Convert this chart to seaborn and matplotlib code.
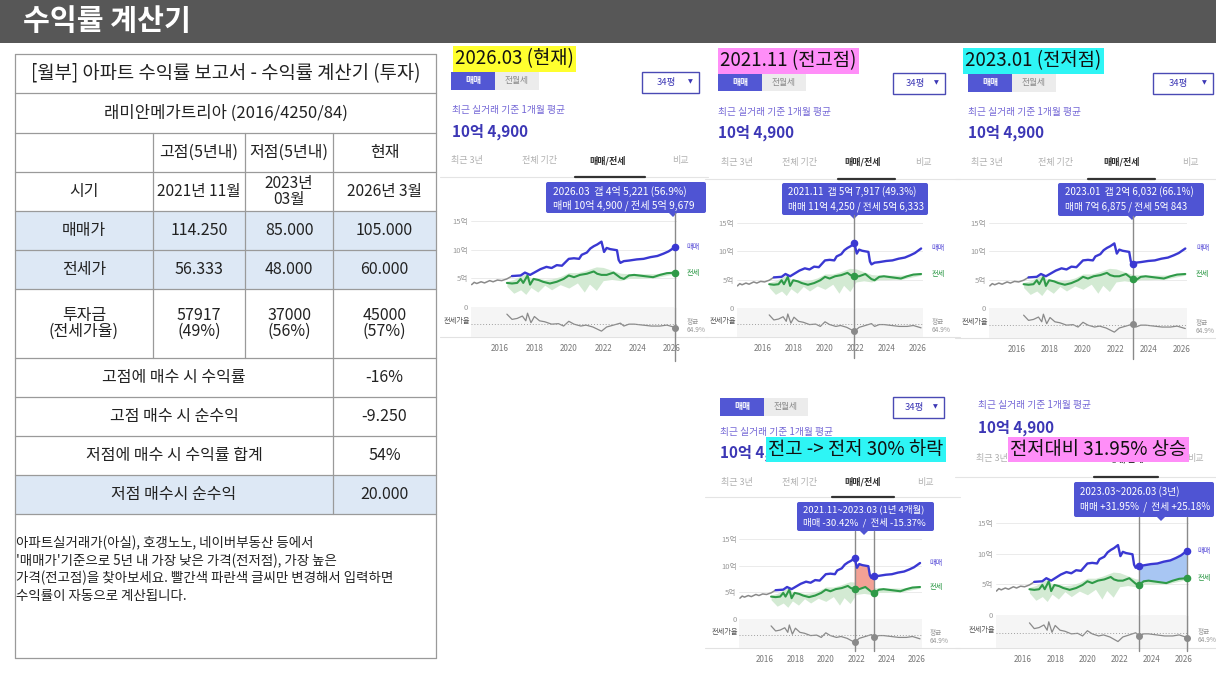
import numpy as np
import matplotlib.pyplot as plt
import seaborn as sns
from matplotlib.patches import Rectangle, FancyBboxPatch, Polygon

# ---- price history (unit: 억원) ----
sale_t = [2016.7, 2017.2, 2017.45, 2017.75, 2018.05, 2018.35, 2018.7, 2019.0, 2019.3, 2019.6,
          2019.8, 2020.0, 2020.3, 2020.6, 2020.75, 2021.05, 2021.25, 2021.45, 2021.65, 2021.8,
          2021.9, 2022.05, 2022.2, 2022.4, 2022.6, 2022.8, 2022.9, 2023.0, 2023.2, 2023.5,
          2023.95, 2024.35, 2024.75, 2025.15, 2025.5, 2025.8, 2026.2]
sale_v = [5.4, 5.5, 6.0, 5.6, 6.1, 6.6, 7.0, 6.8, 7.3, 7.2,
          7.8, 8.4, 8.5, 8.4, 9.1, 9.5, 10.2, 10.6, 10.9, 11.2,
          11.4, 9.6, 10.3, 10.1, 10.0, 9.9, 8.2, 7.7, 8.0, 8.1,
          8.3, 8.4, 8.7, 8.9, 9.3, 9.7, 10.5]

jeonse_t = [2016.4, 2016.7, 2017.0, 2017.2, 2017.35, 2017.6, 2017.75, 2017.95, 2018.25, 2018.5,
            2018.9, 2019.3, 2019.7, 2020.0, 2020.3, 2020.65, 2021.05, 2021.45, 2021.65, 2021.9,
            2022.2, 2022.6, 2023.0, 2023.2, 2023.5, 2023.8, 2024.35, 2024.9, 2025.3, 2025.7, 2026.2]
jeonse_v = [4.2, 4.1, 4.2, 4.9, 4.2, 5.5, 3.9, 4.9, 4.7, 4.4,
            4.1, 4.4, 4.9, 5.5, 5.2, 5.6, 5.8, 6.2, 5.8, 5.6,
            5.6, 6.0, 5.1, 4.9, 5.5, 5.6, 5.4, 5.2, 5.6, 5.9, 6.0]

# pre-completion (gray) segment
pre_t = [2014.35, 2014.5, 2014.65, 2014.9, 2015.1, 2015.4, 2015.6, 2015.85, 2016.1, 2016.4, 2016.7]
pre_v = [3.9, 4.3, 4.1, 4.4, 4.2, 4.6, 4.4, 4.7, 4.6, 4.9, 5.4]

# light green band = range of jeonse deals
band_t = [2016.4, 2016.8, 2017.2, 2017.5, 2017.8, 2018.2, 2018.6, 2019.0, 2019.5, 2020.0,
          2020.5, 2020.9, 2021.2, 2021.6, 2022.0, 2022.5, 2023.0, 2023.5, 2024.0, 2025.0, 2026.2]
band_lo = [3.6, 2.4, 3.0, 2.2, 3.4, 2.6, 3.8, 3.0, 3.9, 3.3,
           4.2, 2.6, 4.0, 2.9, 4.6, 4.8, 4.6, 5.0, 5.0, 5.1, 5.8]
band_hi = [4.5, 4.8, 5.4, 5.8, 5.1, 5.0, 4.8, 4.9, 5.3, 6.0,
           6.0, 6.3, 6.6, 7.0, 6.9, 6.4, 5.9, 5.8, 5.8, 5.8, 6.2]

# 전세가율 (%)
ratio_t = [2016.4, 2016.7, 2017.0, 2017.3, 2017.5, 2017.6, 2017.8, 2018.0, 2018.3, 2018.6,
           2019.0, 2019.4, 2019.7, 2020.0, 2020.3, 2020.7, 2021.0, 2021.4, 2021.9, 2022.2,
           2022.6, 2023.0, 2023.2, 2023.5, 2023.8, 2024.3, 2024.8, 2025.3, 2025.7, 2026.2]
ratio_v = [85, 74, 76, 81, 71, 87, 67, 80, 71, 69,
           64, 65, 60, 70, 64, 60, 62, 58, 49.3, 58,
           62, 66.1, 60, 64, 64, 62, 60, 60, 62, 56.9]
ratio_avg = 64.9

# ---- table contents ----
table_title = '[월부] 아파트 수익률 보고서 - 수익률 계산기 (투자)'
apt_name = '래미안메가트리아 (2016/4250/84)'
col_heads = ['고점(5년내)', '저점(5년내)', '현재']
row_heads = ['시기', '매매가', '전세가', '투자금\n(전세가율)']
periods = ['2021년 11월', '2023년\n03월', '2026년 3월']
sale_prices = ['114.250', '85.000', '105.000']
jeonse_prices = ['56.333', '48.000', '60.000']
invest = ['57917\n(49%)', '37000\n(56%)', '45000\n(57%)']
summary_labels = ['고점에 매수 시 수익률', '고점 매수 시 순수익', '저점에 매수 시 수익률 합계', '저점 매수시 순수익']
summary_values = ['-16%', '-9.250', '54%', '20.000']
note_lines = ['아파트실거래가(아실), 호갱노노, 네이버부동산 등에서',
              "'매매가'기준으로 5년 내 가장 낮은 가격(전저점), 가장 높은",
              '가격(전고점)을 찾아보세요. 빨간색 파란색 글씨만 변경해서 입력하면',
              '수익률이 자동으로 계산됩니다.']

tab_names = ['최근 3년', '전체 기간', '매매/전세', '비교']

sns.set_theme(style='white')
plt.rcParams['font.family'] = ['Noto Sans CJK KR', 'DejaVu Sans']
plt.rcParams['axes.unicode_minus'] = False

W, H = 1216, 684
fig = plt.figure(figsize=(W / 100, H / 100), dpi=100)
fig.patch.set_facecolor('white')
bg = fig.add_axes([0, 0, 1, 1])
bg.set_xlim(0, W)
bg.set_ylim(H, 0)
bg.axis('off')

# header bar
bg.add_patch(Rectangle((0, 0), W, 43, fc='#575757', ec='none'))
bg.text(23, 21, '수익률 계산기', color='white', fontsize=21, fontweight='bold', va='center')

# ---- table ----
TXT = '#222222'
col_x = [15, 153, 245, 333, 436]
row_y = [54, 93, 133, 172, 211, 250, 289, 358, 397, 436, 475, 514, 658]
for i in (4, 5, 10):
    bg.add_patch(Rectangle((col_x[0], row_y[i]), col_x[-1] - col_x[0], row_y[i + 1] - row_y[i],
                           fc='#dde8f5', ec='none'))
lk = dict(color='#9a9a9a', lw=0.9)
for y in row_y:
    bg.plot([col_x[0], col_x[-1]], [y, y], **lk)
bg.plot([col_x[0]] * 2, [row_y[0], row_y[-1]], **lk)
bg.plot([col_x[-1]] * 2, [row_y[0], row_y[-1]], **lk)
for x in col_x[1:3]:
    bg.plot([x, x], [row_y[2], row_y[7]], **lk)
bg.plot([col_x[3]] * 2, [row_y[2], row_y[11]], **lk)

cx = [(col_x[i] + col_x[i + 1]) / 2 for i in range(4)]
mid = lambda i: (row_y[i] + row_y[i + 1]) / 2


def cell(x, y, s, size=11.5):
    bg.text(x, y, s, ha='center', va='center', fontsize=size, color=TXT, linespacing=0.95)


cell((col_x[0] + col_x[-1]) / 2, mid(0), table_title, 13.5)
cell((col_x[0] + col_x[-1]) / 2, mid(1), apt_name, 12)
for j, s in enumerate(col_heads):
    cell(cx[j + 1], mid(2), s)
for i, s in enumerate(row_heads):
    cell(cx[0], mid(3 + i), s)
for j in range(3):
    cell(cx[j + 1], mid(3), periods[j], 11.2)
    cell(cx[j + 1], mid(4), sale_prices[j])
    cell(cx[j + 1], mid(5), jeonse_prices[j])
    cell(cx[j + 1], mid(6), invest[j])
for i in range(4):
    cell((col_x[0] + col_x[3]) / 2, mid(7 + i), summary_labels[i])
    cell(cx[3], mid(7 + i), summary_values[i])
for k, s in enumerate(note_lines):
    bg.text(16, 543 + k * 17.7, s, fontsize=9.7, color=TXT, va='center')

# ---- screenshot panels ----
panels = [
    dict(span=(440, 708), sep=177, label=(455, 59, '2026.03 (현재)', '#ffff2e'),
         buttons=(451, 72), dropdown=(642, 72, 57), sub=(452, 110), price=(452, 132),
         tab_y=161, tabs_x=[467, 540, 608, 680], under=(575, 645),
         tip=(546, 182, 160, 31), tip_x=553, tip_y=(191, 205), tip_pt=673, tip_fs=7.3,
         tip_text=['2026.03  갭 4억 5,221 (56.9%)', '매매 10억 4,900 / 전세 5억 9,679'],
         frame=(500, 672, 221, 307, 337), focus=[2026.2], vext=24, fill=None),
    dict(span=(705, 960), sep=179, label=(720, 61, '2021.11 (전고점)', '#ff8ef8'),
         buttons=(718, 73), dropdown=(893, 73, 52), sub=(718, 112), price=(718, 133),
         tab_y=162, tabs_x=[737, 800, 863, 923], under=(838, 895),
         tip=(782, 183, 146, 32), tip_x=788, tip_y=(192, 207), tip_pt=854, tip_fs=7.0,
         tip_text=['2021.11  갭 5억 7,917 (49.3%)', '매매 11억 4,250 / 전세 5억 6,333'],
         frame=(763, 918, 223, 308, 337), focus=[2021.9], vext=21, fill=None),
    dict(span=(955, 1216), sep=179, label=(965, 61, '2023.01 (전저점)', '#2ef5f5'),
         buttons=(968, 74), dropdown=(1153, 73, 60), sub=(968, 112), price=(968, 133),
         tab_y=162, tabs_x=[987, 1055, 1122, 1190], under=(1088, 1155),
         tip=(1058, 183, 146, 33), tip_x=1065, tip_y=(192, 207), tip_pt=1132, tip_fs=7.0,
         tip_text=['2023.01  갭 2억 6,032 (66.1%)', '매매 7억 6,875 / 전세 5억 843'],
         frame=(1017, 1182, 223, 308, 338), focus=[2023.0], vext=21, fill=None),
    dict(span=(705, 960), sep=497, label=(768, 449.5, '전고 -> 전저 30% 하락', '#2ef5f5'),
         buttons=(720, 398), dropdown=(893, 397, 51), sub=(720, 432), price=(720, 453),
         tab_y=482, tabs_x=[737, 800, 863, 925], under=(832, 894),
         tip=(797, 502, 137, 29), tip_x=803, tip_y=(509.5, 523), tip_pt=864, tip_fs=6.8,
         tip_text=['2021.11~2023.03 (1년 4개월)', '매매 -30.42%  /  전세 -15.37%'],
         frame=(765, 917, 539, 619, 648), focus=[2021.9, 2023.2], vext=3,
         fill=(2021.9, 2023.2, '#f3a195')),
    dict(span=(955, 1216), sep=477, label=(1010, 449.5, '전저대비 31.95% 상승', '#ff8ef8'),
         buttons=None, dropdown=None, sub=(978, 405), price=(978, 428),
         tab_y=459, tabs_x=[992, 1060, 1126, 1195], under=(1094, 1158),
         tip=(1074, 482, 140, 35), tip_x=1080, tip_y=(492, 507), tip_pt=1161, tip_fs=7.0,
         tip_text=['2023.03~2026.03 (3년)', '매매 +31.95%  /  전세 +25.18%'],
         frame=(1023, 1184, 523, 615, 648), focus=[2023.2, 2026.2], vext=3,
         fill=(2023.2, 2026.2, '#a8c6f3')),
]

BLUE = '#3a38d2'
GREEN = '#2f9a48'
GRAY = '#8a8a8a'
TIP = '#4f54d3'
XLIM = (2014.3, 2026.3)
YLIM = (0, 16)


def draw_ui(p):
    x0, x1 = p['span']
    bg.plot([x0, x1], [p['sep'], p['sep']], color='#e4e4e4', lw=0.8)
    if p['buttons']:
        bx, by = p['buttons']
        bg.add_patch(Rectangle((bx, by), 44, 18, fc='#5257d4', ec='none'))
        bg.add_patch(Rectangle((bx + 44, by), 44, 18, fc='#ececec', ec='none'))
        bg.text(bx + 22, by + 9, '매매', color='white', fontsize=6.3, fontweight='bold',
                ha='center', va='center')
        bg.text(bx + 66, by + 9, '전월세', color='#8a8a8a', fontsize=6.3, ha='center', va='center')
        dx, dy, dw = p['dropdown']
        bg.add_patch(Rectangle((dx, dy), dw, 21, fc='white', ec='#4a4ab4', lw=1))
        bg.text(dx + dw * 0.42, dy + 10.5, '34평', color='#3c37b5', fontsize=6.8,
                ha='center', va='center')
        bg.text(dx + dw - 9, dy + 10, '▼', color='#3c37b5', fontsize=4.5, ha='center', va='center',
                family=['DejaVu Sans'])
    sx, sy = p['sub']
    bg.text(sx, sy, '최근 실거래 기준 1개월 평균', color='#7467d6', fontsize=7, va='center')
    qx, qy = p['price']
    bg.text(qx, qy, '10억 4,900', color='#3c37b5', fontsize=11, fontweight='bold', va='center')
    for tx, name in zip(p['tabs_x'], tab_names):
        sel = name == '매매/전세'
        bg.text(tx, p['tab_y'], name, ha='center', va='center', fontsize=6.5,
                color='#333333' if sel else '#b0b0b0', fontweight='bold' if sel else 'normal')
    bg.plot(p['under'], [p['sep'], p['sep']], color='#333333', lw=1.6)
    tx, ty, tw, th = p['tip']
    bg.add_patch(FancyBboxPatch((tx, ty), tw, th, boxstyle='round,pad=0,rounding_size=2',
                                fc=TIP, ec='none', zorder=5))
    pt = p['tip_pt']
    bg.add_patch(Polygon([[pt - 4, ty + th], [pt + 4, ty + th], [pt, ty + th + 4]],
                         fc=TIP, ec='none', zorder=5))
    for s, yy in zip(p['tip_text'], p['tip_y']):
        bg.text(p['tip_x'], yy, s, color='white', fontsize=p['tip_fs'], va='center', zorder=6)
    lx, ly, ltxt, lcol = p['label']
    bg.text(lx, ly, ltxt, fontsize=13.5, color='#111111', va='center', ha='left', zorder=10,
            bbox=dict(boxstyle='square,pad=0.12', fc=lcol, ec='none'))


def nearest(ts, t):
    return int(np.argmin(np.abs(np.asarray(ts) - t)))


def draw_chart(p):
    x16, x26, y15, y0, yb = p['frame']
    kx = (x26 - x16) / 10
    ky = (y0 - y15) / 15
    left = x16 + (XLIM[0] - 2016) * kx
    width = (XLIM[1] - XLIM[0]) * kx
    top = y0 - YLIM[1] * ky
    ax = fig.add_axes([left / W, 1 - y0 / H, width / W, (y0 - top) / H])
    axr = fig.add_axes([left / W, 1 - yb / H, width / W, (yb - y0) / H])
    ax.patch.set_alpha(0)
    axr.set_facecolor('#f5f5f5')

    ax.fill_between(band_t, band_lo, band_hi, color='#d3ead3', lw=0, zorder=1)
    if p['fill']:
        a, b, fc = p['fill']
        st, sv = np.asarray(sale_t), np.asarray(sale_v)
        jt, jv = np.asarray(jeonse_t), np.asarray(jeonse_v)
        m1 = (st >= a - 1e-6) & (st <= b + 1e-6)
        m2 = (jt >= a - 1e-6) & (jt <= b + 1e-6)
        ax.fill(np.r_[st[m1], jt[m2][::-1]], np.r_[sv[m1], jv[m2][::-1]], color=fc, lw=0, zorder=2)
    sns.lineplot(x=pre_t, y=pre_v, ax=ax, color=GRAY, lw=1.1, zorder=3)
    sns.lineplot(x=jeonse_t, y=jeonse_v, ax=ax, color=GREEN, lw=1.5, zorder=3)
    sns.lineplot(x=sale_t, y=sale_v, ax=ax, color=BLUE, lw=1.7, zorder=4)
    ax.set_xlim(*XLIM)
    ax.set_ylim(*YLIM)
    ax.set_xticks([])
    ax.set_yticks([0, 5, 10, 15])
    ax.set_yticklabels(['0', '5억', '10억', '15억'])
    ax.tick_params(axis='y', length=0, pad=2, labelsize=5.5, labelcolor='#9a9a9a')
    ax.grid(axis='y', color='#e8e8e8', lw=0.6)
    ax.set_axisbelow(True)
    ax.set_xlabel('')
    ax.set_ylabel('')
    sns.despine(ax=ax, left=True, bottom=True)
    ax.text(XLIM[1] + 0.55, sale_v[-1], '매매', color='#5b50d8', fontsize=5.2, va='center', clip_on=False)
    ax.text(XLIM[1] + 0.55, jeonse_v[-1], '전세', color=GREEN, fontsize=5.2, va='center', clip_on=False)

    sns.lineplot(x=ratio_t, y=ratio_v, ax=axr, color=GRAY, lw=0.9)
    axr.axhline(ratio_avg, color='#a0a0a0', lw=0.7, ls=(0, (1, 2)))
    axr.set_xlim(*XLIM)
    axr.set_ylim(37, 100)
    axr.set_yticks([])
    axr.set_xticks(range(2016, 2027, 2))
    axr.tick_params(axis='x', length=0, pad=5, labelsize=5.8, labelcolor='#777777')
    axr.set_xlabel('')
    axr.set_ylabel('')
    sns.despine(ax=axr, left=True, bottom=True)
    axr.text(XLIM[0] - 0.05, 71, '전세가율', ha='right', va='center', fontsize=5.2, color='#555555',
             clip_on=False)
    axr.text(XLIM[1] + 0.55, 60, '평균\n64.9%', ha='left', va='center', fontsize=4.8,
             color='#999999', linespacing=1.0, clip_on=False)

    tip_bottom = p['tip'][1] + p['tip'][3]
    for t in p['focus']:
        ax.axvline(t, ymin=0, ymax=(y0 - tip_bottom) / (y0 - top), color=GRAY, lw=1,
                   clip_on=False, zorder=2)
        axr.axvline(t, ymin=-p['vext'] / (yb - y0), ymax=1, color=GRAY, lw=1, clip_on=False)
        i = nearest(sale_t, t)
        ax.scatter([sale_t[i]], [sale_v[i]], s=20, color=BLUE, zorder=6, clip_on=False)
        i = nearest(jeonse_t, t)
        ax.scatter([jeonse_t[i]], [jeonse_v[i]], s=20, color=GREEN, zorder=6, clip_on=False)
        i = nearest(ratio_t, t)
        axr.scatter([ratio_t[i]], [ratio_v[i]], s=16, color=GRAY, zorder=6, clip_on=False)


for p in panels:
    bg.plot(p['span'], [p['frame'][4]] * 2, color='#e2e2e2', lw=0.8)
for p in panels:
    draw_ui(p)
for p in panels:
    draw_chart(p)

fig.savefig('out.png', dpi=100)
